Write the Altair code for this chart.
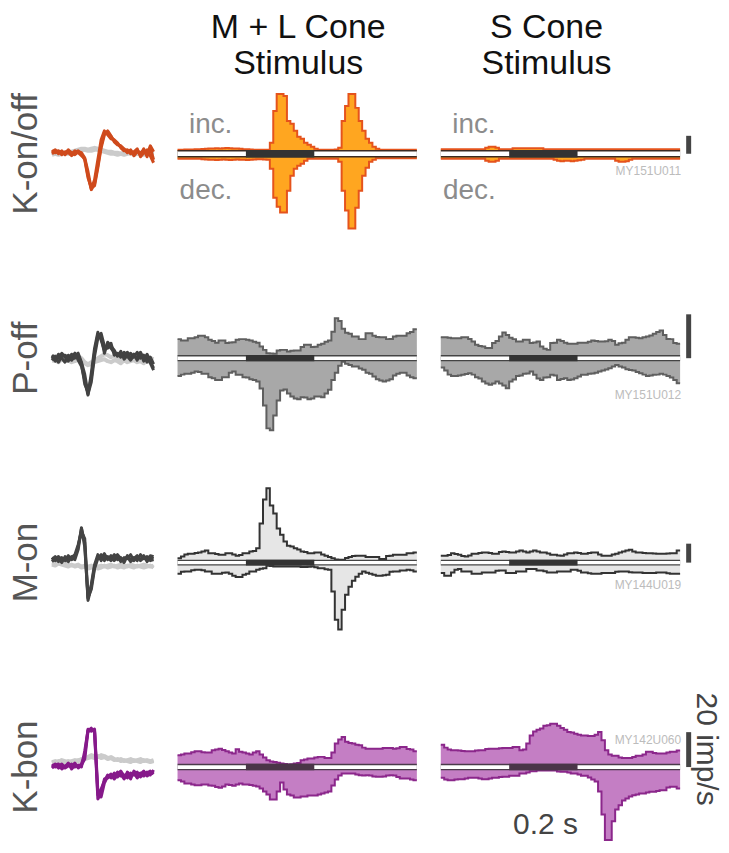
import altair as alt
import pandas as pd

# ------------------------------------------------------------------ data
BIN_START = -0.2      # s
BIN_WIDTH = 0.01      # s
T_END = 0.5           # s
STIM_ON, STIM_OFF = 0.0, 0.2
SCALE_BAR = 20        # imp/s

CELL_TYPES = ["K-on/off", "P-off", "M-on", "K-bon"]
CELL_IDS = ["MY151U011", "MY151U012", "MY144U019", "MY142U060"]
COL_TITLES = [["M + L Cone", "Stimulus"], ["S Cone", "Stimulus"]]

# PSTHs (imp/s), 10 ms bins from -0.2 s to 0.5 s; inc = increment, dec = decrement
R1_ML_INC = ([1.2, 1.2, 1.4, 1.3, 1.5, 1.6, 1.8, 2.0, 2.2, 2.4,
              2.6, 2.8, 2.6, 2.8, 3.0, 2.8, 2.6, 2.4, 2.2, 1.8,
              1.6, 1.4, 1.2, 1.1, 1.1, 1.1, 1.2]
             + [8.9, 44.4, 63.3, 63.3, 61.1, 33.3, 30.0, 22.2, 15.6, 13.3, 8.9, 6.7, 4.4, 2.2]
             + [1.1, 1.1, 1.1, 1.1, 1.1, 1.4]
             + [3.3, 33.3, 50.0, 63.3, 63.3, 47.8, 33.3, 22.2, 13.3, 8.9, 4.4, 2.2]
             + [1.1] * 11)
R1_ML_DEC = ([2.2] * 7
             + [2.8, 3.0, 3.3, 3.3, 3.6, 3.3, 3.0, 3.3, 3.6, 3.3,
                3.0, 3.3, 3.3, 3.6, 3.3, 3.0, 2.8, 2.8, 3.0, 3.3]
             + [13.3, 45.6, 55.6, 62.2, 62.2, 37.8, 21.1, 13.3, 10.0, 7.8, 4.4]
             + [2.2] * 9
             + [5.6, 37.8, 60.0, 80.0, 80.0, 56.7, 37.8, 21.1, 12.2, 5.6, 3.3]
             + [1.7] * 12)
R1_S_INC = [1.7] * 13 + [3.3, 4.4, 4.4, 3.3] + [1.7] * 4 + [2.8] * 9 + [1.7] * 40
R1_S_DEC = ([2.2] * 13 + [4.4, 5.6, 5.6, 4.4] + [2.2] * 16
            + [3.3, 4.4, 5.0, 4.4, 4.4, 5.0, 4.4, 3.9, 3.3] + [2.2] * 9
            + [4.4, 5.6, 5.6, 5.0, 3.3] + [2.2] * 14)

R2_ML_INC = [7.6, 7.0, 7.0, 8.0, 8.0, 8.4, 9.1, 9.1, 8.5, 7.3,
             6.8, 6.0, 7.0, 7.0, 5.8, 6.1, 6.2, 7.3, 7.6, 7.6,
             7.3, 7.0, 6.4, 6.0, 4.2, 2.7, 1.2, 1.1, 0.9, 2.4,
             2.7, 2.7, 2.0, 2.3, 2.4, 2.4, 4.0, 5.0, 5.0, 4.0,
             4.1, 5.0, 5.5, 6.4, 7.0, 11.0, 17.1, 15.9, 12.3, 10.5,
             10.0, 8.8, 8.8, 7.6, 7.6, 10.3, 10.3, 9.1, 8.6, 8.5,
             8.5, 7.6, 7.7, 8.8, 9.1, 9.1, 9.1, 10.3, 10.9, 12.1]
R2_ML_DEC = [7.0, 6.4, 6.0, 6.0, 5.5, 5.0, 5.2, 6.0, 6.0, 7.6,
             8.0, 8.8, 8.8, 7.6, 7.6, 5.5, 5.0, 6.5, 6.5, 7.6,
             7.7, 8.5, 8.9, 9.5, 12.7, 20.5, 30.9, 31.8, 25.0, 18.2,
             13.6, 13.2, 15.0, 16.4, 17.3, 17.6, 16.7, 16.8, 17.6, 17.3,
             16.4, 16.4, 16.7, 15.0, 13.3, 8.8, 5.5, 2.3, 0.5, 1.4,
             2.0, 2.7, 2.7, 3.6, 4.2, 5.5, 6.0, 7.3, 8.5, 9.1,
             9.5, 9.1, 8.5, 6.8, 6.0, 5.5, 5.5, 6.8, 7.6, 8.0]
R2_S_INC = [8.5, 8.5, 8.2, 8.0, 8.0, 8.0, 8.5, 8.5, 7.7, 6.5,
            5.0, 4.5, 4.2, 3.6, 3.5, 5.8, 6.8, 8.8, 10.6, 9.5,
            8.2, 7.6, 6.5, 6.5, 7.3, 7.3, 5.8, 6.1, 6.5, 4.2,
            3.2, 2.7, 5.8, 5.9, 7.3, 6.8, 6.0, 5.5, 5.5, 5.5,
            6.0, 6.0, 6.0, 6.4, 7.0, 6.8, 6.5, 6.5, 6.6, 7.3,
            6.8, 5.0, 5.7, 6.0, 7.3, 8.5, 8.5, 8.2, 8.0, 8.4,
            8.8, 9.3, 10.0, 10.9, 11.5, 9.5, 7.7, 7.6, 5.8, 5.5]
R2_S_DEC = [3.2, 4.5, 6.4, 7.0, 7.0, 6.8, 6.5, 6.1, 5.8, 6.4,
            7.6, 8.2, 9.5, 10.5, 11.0, 10.5, 9.5, 10.5, 11.4, 12.6,
            9.5, 8.6, 7.0, 6.8, 6.0, 5.9, 5.0, 6.5, 8.2, 8.8,
            7.7, 7.6, 6.5, 6.8, 8.8, 8.4, 8.0, 8.8, 8.6, 8.0,
            7.3, 6.5, 6.5, 6.0, 5.9, 5.5, 5.0, 4.5, 4.1, 3.5,
            2.7, 2.0, 2.7, 3.2, 4.0, 4.3, 4.5, 5.2, 5.8, 6.4,
            7.0, 6.8, 6.5, 6.4, 6.0, 6.4, 7.0, 7.7, 8.8, 10.3]

R3_ML_INC = [2.4, 4.2, 6.3, 7.1, 7.1, 7.9, 8.4, 9.5, 10.5, 7.7,
             7.7, 6.8, 6.0, 6.0, 7.7, 7.7, 6.3, 4.9, 5.8, 7.7,
             7.7, 9.5, 10.0, 12.9, 39.0, 64.2, 76.1, 57.9, 49.5, 33.7,
             27.1, 20.0, 15.5, 14.7, 12.9, 11.6, 9.5, 8.9, 7.7, 7.7,
             8.4, 8.4, 6.3, 4.9, 3.7, 2.4, 1.1, 0.7, 0.7, 2.6,
             3.5, 4.7, 4.9, 4.9, 4.9, 3.7, 3.5, 3.5, 3.5, 1.6,
             1.4, 4.7, 4.9, 6.0, 6.0, 6.0, 6.0, 7.7, 7.7, 8.4]
R3_ML_DEC = [9.5, 7.4, 7.1, 7.1, 5.8, 5.3, 5.3, 5.8, 7.1, 7.1,
             9.5, 9.5, 9.5, 8.4, 8.1, 9.5, 11.6, 12.9, 12.9, 10.5,
             9.5, 7.1, 7.1, 5.3, 4.2, 3.5, 1.1, 1.3, 1.8, 1.8,
             1.8, 1.8, 1.8, 1.8, 1.8, 1.8, 2.4, 2.4, 2.1, 1.8,
             2.6, 3.5, 3.5, 4.7, 5.3, 28.1, 57.9, 68.4, 47.4, 31.6,
             23.2, 16.8, 12.6, 9.5, 7.1, 8.4, 9.5, 10.5, 11.6, 11.6,
             11.1, 10.5, 7.4, 7.1, 7.1, 6.0, 6.0, 5.3, 5.8, 7.1]
R3_S_INC = [4.9, 4.9, 5.8, 7.7, 6.8, 6.0, 4.7, 4.2, 5.3, 7.1,
            7.1, 7.9, 8.4, 8.4, 7.9, 7.1, 7.1, 8.9, 9.5, 8.9,
            8.4, 8.4, 9.5, 10.5, 9.5, 8.4, 9.5, 10.5, 9.5, 8.4,
            8.4, 7.4, 6.0, 6.0, 5.3, 4.9, 6.3, 7.7, 7.7, 8.4,
            7.9, 7.1, 7.1, 7.9, 8.4, 8.4, 6.3, 4.9, 4.9, 4.9,
            6.3, 7.1, 8.4, 9.5, 10.5, 11.3, 9.5, 8.4, 8.4, 7.9,
            7.7, 7.7, 7.4, 7.1, 7.1, 7.1, 7.4, 7.7, 7.7, 10.5]
R3_S_DEC = [8.7, 11.6, 11.6, 8.1, 5.3, 4.5, 7.1, 7.1, 7.1, 9.5,
            9.5, 9.5, 8.1, 8.1, 8.1, 8.1, 6.3, 6.0, 6.0, 8.7,
            8.7, 8.7, 7.1, 7.1, 7.1, 4.5, 4.5, 4.5, 6.0, 6.0,
            6.8, 8.1, 8.1, 8.1, 7.1, 7.1, 7.1, 7.1, 5.3, 5.3,
            6.3, 8.1, 8.1, 8.9, 9.5, 9.5, 9.5, 8.7, 8.7, 8.7,
            8.7, 7.4, 7.1, 7.1, 7.1, 7.9, 8.1, 8.1, 8.1, 8.7,
            8.7, 8.7, 8.7, 8.1, 8.1, 8.1, 8.9, 9.5, 9.5, 9.5]

R4_ML_INC = [5.3, 5.7, 6.3, 6.3, 7.1, 7.6, 7.6, 7.1, 6.9, 6.9,
             8.2, 8.6, 9.1, 8.3, 7.6, 6.9, 6.3, 8.7, 7.4, 6.9,
             6.3, 5.7, 6.9, 7.6, 5.7, 4.0, 2.5, 1.7, 1.5, 1.1,
             0.6, 0.3, 0.0, 0.2, 0.6, 0.9, 2.5, 2.9, 3.4, 3.4,
             4.0, 4.4, 4.4, 3.8, 3.8, 6.9, 12.0, 14.3, 15.8, 13.1,
             12.3, 12.0, 11.4, 11.0, 9.7, 9.1, 9.1, 9.1, 9.1, 9.1,
             9.5, 9.5, 9.5, 9.1, 9.4, 10.1, 10.1, 8.9, 8.6, 7.6]
R4_ML_DEC = [6.1, 6.9, 8.0, 8.0, 8.6, 9.0, 9.0, 8.6, 8.6, 9.1,
             9.3, 10.0, 10.5, 9.7, 8.6, 8.9, 9.3, 8.6, 8.0, 8.6,
             8.6, 8.9, 9.3, 9.7, 10.9, 12.6, 14.3, 17.1, 17.1, 12.6,
             7.4, 11.4, 14.3, 14.9, 16.0, 16.0, 15.4, 15.4, 14.9, 14.9,
             14.9, 14.3, 13.7, 13.1, 12.6, 9.1, 5.7, 3.4, 2.3, 2.3,
             2.3, 2.3, 2.9, 3.3, 3.4, 3.3, 3.4, 4.0, 4.2, 4.2,
             4.0, 3.4, 3.3, 3.4, 4.3, 5.1, 5.1, 5.1, 5.7, 6.1]
R4_S_INC = [11.4, 9.7, 8.6, 8.2, 8.2, 8.0, 7.7, 7.6, 7.6, 7.6,
            8.0, 8.2, 8.2, 8.9, 9.1, 9.1, 9.1, 9.4, 9.5, 9.5,
            9.5, 10.1, 10.1, 8.2, 8.6, 12.0, 16.7, 19.0, 20.0, 20.6,
            22.3, 22.5, 23.4, 23.4, 22.3, 21.0, 20.0, 18.7, 18.3, 17.7,
            17.1, 16.7, 16.6, 16.4, 16.4, 17.1, 18.7, 13.9, 8.2, 5.7,
            5.0, 5.0, 4.0, 3.8, 3.8, 3.8, 4.3, 5.0, 5.0, 5.7,
            7.3, 7.3, 6.6, 6.3, 6.3, 6.3, 6.9, 7.3, 7.3, 8.0]
R4_S_DEC = [4.7, 5.7, 6.1, 6.1, 5.7, 5.5, 5.5, 5.1, 4.7, 4.7,
            4.7, 5.1, 5.5, 5.5, 5.1, 4.7, 4.7, 4.3, 4.2, 4.2,
            3.6, 3.6, 3.6, 2.3, 2.3, 1.7, 1.0, 1.0, 0.6, 0.6,
            0.6, 0.6, 0.6, 0.6, 1.1, 1.3, 1.3, 1.7, 2.3, 2.3,
            2.9, 3.6, 3.6, 4.6, 5.7, 6.9, 12.6, 25.7, 40.4, 40.4,
            29.7, 22.9, 20.4, 17.7, 16.6, 15.4, 14.7, 14.3, 13.7, 13.7,
            13.1, 12.7, 12.7, 12.3, 11.8, 11.8, 10.3, 9.9, 9.9, 10.9]

# spike waveforms (32 samples, relative amplitude): unit traces and grey (other) traces
R1_WAVE = [[2, 4, 0, 3, -1, 2, 0, 3, 1, -2, -5, -22, -36, -30, -12, 8, 21, 22, 17, 13, 10, 7, 4, 2, 3, 0, 4, -1, 5, -3, 6, -6],
           [0, 2, 3, -1, 2, 1, -2, 1, 3, 0, -6, -24, -34, -32, -14, 6, 19, 23, 18, 12, 9, 8, 5, 1, 4, -2, 2, 1, 3, -1, 8, 2],
           [3, 1, 2, 2, 0, 4, 1, -1, 2, 1, -4, -18, -35, -26, -6, 14, 23, 19, 15, 14, 11, 6, 3, 4, 0, 2, 5, -3, 1, 4, -2, -9]]
R1_GREY = [[1, 0, 2, 1, 0, 1, 2, 3, 4, 5, 5, 4, 5, 6, 5, 4, 3, 2, 2, 1, 1, 0, 1, 2, 0, 1, 0, 1, 2, 1, 0, 1],
           [-1, 0, -1, 0, 1, 0, 1, 2, 2, 3, 4, 3, 3, 4, 4, 3, 2, 1, 0, 0, -1, 0, -1, 0, 1, -1, 0, 0, -1, 0, 1, 0]]
R2_WAVE = [[2, -3, 4, 0, -4, 3, 1, 5, -2, -8, -22, -37, -15, 10, 26, 18, 8, 14, 10, 6, 3, 5, 2, 6, 0, 4, -2, 5, -3, 2, -5, -12],
           [-2, 2, 0, 5, 1, -3, 4, 0, 3, -5, -26, -34, -20, 6, 24, 22, 5, 16, 12, 8, 2, 7, -1, 3, 5, 1, 6, 0, 3, -4, 1, -6],
           [3, 0, -4, 2, 3, 0, -2, 2, 5, -4, -16, -36, -24, 2, 20, 25, 12, 10, 15, 3, 5, 1, 6, 2, -2, 3, 0, 6, -1, 4, -3, -10]]
R2_GREY = [[1, 2, 1, 3, 2, 1, 0, 1, 2, 0, -4, -6, -4, -2, 0, 2, 4, 3, 1, 2, 0, -1, 1, 0, 2, 1, -1, 0, 1, -2, 0, -1],
           [-3, -2, -4, -1, -3, -2, -4, -3, -1, -3, -5, -7, -6, -4, -3, -2, -1, -3, -4, -2, -3, -5, -2, -4, -3, -2, -4, -3, -5, -2, -4, -3]]
R3_WAVE = [[3, 6, 1, 5, 2, 7, 3, 5, 16, 34, 20, -38, -24, -4, 6, 4, 9, 3, 7, 2, 6, 1, 5, 4, 8, 2, 6, 3, 7, 1, 5, 4],
           [5, 2, 4, 0, 6, 3, 5, 8, 18, 31, 24, -35, -27, -6, 4, 8, 2, 6, 4, 8, 3, 5, 0, 7, 3, 5, 2, 8, 4, 6, 2, 3],
           [1, 4, 6, 3, 4, 1, 6, 3, 13, 35, 16, -36, -22, -2, 8, 2, 6, 5, 2, 5, 8, 4, 3, 6, 1, 4, 7, 2, 5, 3, 7, 6]]
R3_GREY = [[0, -1, 0, 1, -1, -2, -3, -3, -2, -4, -3, -4, -3, -5, -4, -3, -4, -3, -2, -4, -3, -2, -3, -4, -2, -3, -4, -3, -2, -3, -4, -3],
           [-2, -3, -1, -2, -3, -4, -2, -4, -3, -5, -4, -6, -5, -4, -6, -5, -3, -5, -4, -3, -5, -4, -5, -3, -4, -5, -3, -4, -5, -4, -3, -5]]
R4_WAVE = [[1, 3, -1, 2, 0, 4, -2, 2, 1, 3, 12, 38, 37, 36, -28, -22, -14, -8, -11, -6, -10, -7, -12, -5, -9, -6, -11, -7, -4, -9, -6, -5],
           [-1, 2, 3, -2, 1, 2, 0, 4, -1, 2, 8, 36, 39, 35, -32, -26, -12, -11, -7, -10, -5, -9, -8, -11, -6, -8, -5, -10, -7, -5, -8, -3],
           [2, 0, 1, 3, -1, 1, 3, 0, 2, 0, 16, 37, 36, 38, -24, -30, -16, -9, -8, -12, -8, -4, -9, -7, -12, -4, -8, -6, -9, -6, -4, -7]]
R4_GREY = [[5, 6, 5, 7, 6, 5, 6, 7, 6, 8, 9, 10, 12, 11, 10, 12, 11, 9, 10, 8, 7, 8, 6, 7, 8, 6, 7, 8, 6, 7, 6, 7],
           [4, 5, 6, 5, 4, 6, 5, 6, 7, 6, 8, 9, 10, 9, 11, 9, 10, 8, 9, 7, 8, 6, 7, 6, 5, 7, 6, 5, 7, 6, 5, 6]]

PSTH = [(R1_ML_INC, R1_ML_DEC, R1_S_INC, R1_S_DEC),
        (R2_ML_INC, R2_ML_DEC, R2_S_INC, R2_S_DEC),
        (R3_ML_INC, R3_ML_DEC, R3_S_INC, R3_S_DEC),
        (R4_ML_INC, R4_ML_DEC, R4_S_INC, R4_S_DEC)]
WAVES = [(R1_WAVE, R1_GREY), (R2_WAVE, R2_GREY), (R3_WAVE, R3_GREY), (R4_WAVE, R4_GREY)]

# ------------------------------------------------------------------ styles / layout
FONT = "Liberation Sans"
STYLES = [
    dict(fill="#ffa620", stroke="#e5531c", wave="#cf4a1c", band="#3b2a22", stim="#333333"),
    dict(fill="#a8a8a8", stroke="#5f5f5f", wave="#424242", band="#444444", stim="#333333"),
    dict(fill="#e6e6e6", stroke="#333333", wave="#444444", band="#444444", stim="#333333"),
    dict(fill="#c47ec4", stroke="#8b278b", wave="#86198a", band="#4a3a4a", stim="#4a3548"),
]
# per row: panel top / baseline / bottom (px, page), px per imp/s, half-gap of band
ROW_GEOM = [dict(top=8, mid=153, bot=255, k=0.9, gap=3.0, id_y=166),
            dict(top=255, mid=358, bot=460, k=2.2, gap=2.4, id_y=144),
            dict(top=460, mid=563, bot=665, k=0.95, gap=2.2, id_y=129),
            dict(top=665, mid=768, bot=844, k=1.75, gap=2.5, id_y=80)]
WAVE_W, ML_W, S_W, GAP_W = 146, 240, 279, 24
PX_PER_S = ML_W / (T_END - BIN_START)

one = pd.DataFrame({"a": [0]})
stim_df = pd.DataFrame({"start": [BIN_START], "end": [T_END], "on": [STIM_ON], "off": [STIM_OFF],
                        "zero": [0.0], "bar": [SCALE_BAR]})


def text_mark(text, x, y, **kw):
    return alt.Chart(one).mark_text(text=text, font=FONT, **kw).encode(x=alt.value(x), y=alt.value(y))


def psth_panel(ri, inc, dec, width, is_s):
    g = ROW_GEOM[ri]
    st = STYLES[ri]
    h = g["bot"] - g["top"]
    xs = alt.Scale(domain=[BIN_START, BIN_START + width / PX_PER_S], nice=False, zero=False)
    ys = alt.Scale(domain=[-(g["bot"] - g["mid"]) / g["k"], (g["mid"] - g["top"]) / g["k"]],
                   nice=False, zero=False)
    n = len(inc)
    df = pd.DataFrame({"t": [BIN_START + i * BIN_WIDTH for i in range(n)] + [T_END],
                       "inc": inc + [inc[-1]], "dec": dec + [dec[-1]]})
    base = alt.Chart(df).transform_calculate(neg="-datum.dec").encode(
        x=alt.X("t:Q", scale=xs, axis=None))
    gp = g["gap"]
    inc_area = base.mark_area(interpolate="step-after", color=st["fill"], opacity=1,
                              yOffset=-gp, y2Offset=-gp).encode(
        y=alt.Y("inc:Q", scale=ys, axis=None), y2=alt.datum(0))
    dec_area = base.mark_area(interpolate="step-after", color=st["fill"], opacity=1,
                              yOffset=gp, y2Offset=gp).encode(
        y=alt.Y("neg:Q", scale=ys, axis=None), y2=alt.datum(0))
    inc_line = base.mark_line(interpolate="step-after", color=st["stroke"], strokeWidth=2,
                              yOffset=-gp).encode(y=alt.Y("inc:Q", scale=ys, axis=None))
    dec_line = base.mark_line(interpolate="step-after", color=st["stroke"], strokeWidth=2,
                              yOffset=gp).encode(y=alt.Y("neg:Q", scale=ys, axis=None))
    sbase = alt.Chart(stim_df)
    band_dark = sbase.mark_rule(color=st["band"], strokeWidth=2 * gp + 1.5).encode(
        x=alt.X("start:Q", scale=xs, axis=None), x2="end:Q", y=alt.Y("zero:Q", scale=ys, axis=None))
    band_white = sbase.mark_rule(color="white", strokeWidth=2 * gp - 1.3).encode(
        x="start:Q", x2="end:Q", y="zero:Q")
    stim_bar = sbase.mark_rule(color=st["stim"], strokeWidth=2 * gp + 1.5).encode(
        x="on:Q", x2="off:Q", y="zero:Q")
    layers = [inc_area, dec_area, inc_line, dec_line, band_dark, band_white, stim_bar]
    if is_s:
        layers.append(sbase.mark_rule(color="#444444", strokeWidth=5).encode(
            x=alt.datum(0.525), y="zero:Q", y2="bar:Q"))
        layers.append(text_mark(CELL_IDS[ri], 241, g["id_y"], align="right", baseline="alphabetic",
                                fontSize=12, color="#bcbcbc"))
    if ri == 0:
        layers.append(text_mark("inc.", 55, 124, align="right", baseline="alphabetic",
                                fontSize=28, color="#8c8c8c"))
        layers.append(text_mark("dec.", 55, 190, align="right", baseline="alphabetic",
                                fontSize=28, color="#8c8c8c"))
        title = COL_TITLES[1] if is_s else COL_TITLES[0]
        layers.append(text_mark(title, 106 if is_s else 121, 29, align="center", baseline="alphabetic",
                                fontSize=34, lineHeight=36, color="#111111"))
    if ri == 3 and is_s:
        layers.append(text_mark("0.2 s", 105, 170, align="center", baseline="alphabetic",
                                fontSize=30, color="#444444"))
        layers.append(text_mark("20 imp/s", 266, 85, align="center", baseline="middle",
                                angle=90, fontSize=30, color="#444444"))
    return alt.layer(*layers).properties(width=width, height=h)


def wave_panel(ri):
    g = ROW_GEOM[ri]
    st = STYLES[ri]
    h = g["bot"] - g["top"]
    unit, grey = WAVES[ri]
    recs = []
    for j, tr in enumerate(grey):
        recs += [dict(s=i, v=v, trace=f"g{j}", kind="grey") for i, v in enumerate(tr)]
    for j, tr in enumerate(unit):
        recs += [dict(s=i, v=v, trace=f"u{j}", kind="unit") for i, v in enumerate(tr)]
    df = pd.DataFrame(recs)
    xs = alt.Scale(domain=[-13.4, 31], nice=False, zero=False)
    ys = alt.Scale(domain=[-(g["bot"] - g["mid"]), g["mid"] - g["top"]], nice=False, zero=False)
    base = alt.Chart(df).encode(x=alt.X("s:Q", scale=xs, axis=None),
                                y=alt.Y("v:Q", scale=ys, axis=None), detail="trace:N")
    grey_l = base.transform_filter("datum.kind == 'grey'").mark_line(color="#cbcbcb", strokeWidth=4,
                                                                      strokeJoin="round")
    unit_l = base.transform_filter("datum.kind == 'unit'").mark_line(color=st["wave"], strokeWidth=3,
                                                                      strokeJoin="round")
    label = text_mark(CELL_TYPES[ri], 29, g["mid"] - g["top"], angle=270, align="center",
                      baseline="alphabetic", fontSize=35, color="#555555")
    return alt.layer(grey_l, unit_l, label).properties(width=WAVE_W, height=h)


rows = []
for ri in range(4):
    ml_inc, ml_dec, s_inc, s_dec = PSTH[ri]
    rows.append(alt.hconcat(wave_panel(ri),
                            psth_panel(ri, ml_inc, ml_dec, ML_W, False),
                            psth_panel(ri, s_inc, s_dec, S_W, True),
                            spacing=GAP_W, bounds="flush"))

chart = (alt.vconcat(*rows, spacing=0)
         .properties(padding=0)
         .configure_view(stroke=None))

chart.save("out.html", embed_options={"renderer": "svg", "actions": False})
